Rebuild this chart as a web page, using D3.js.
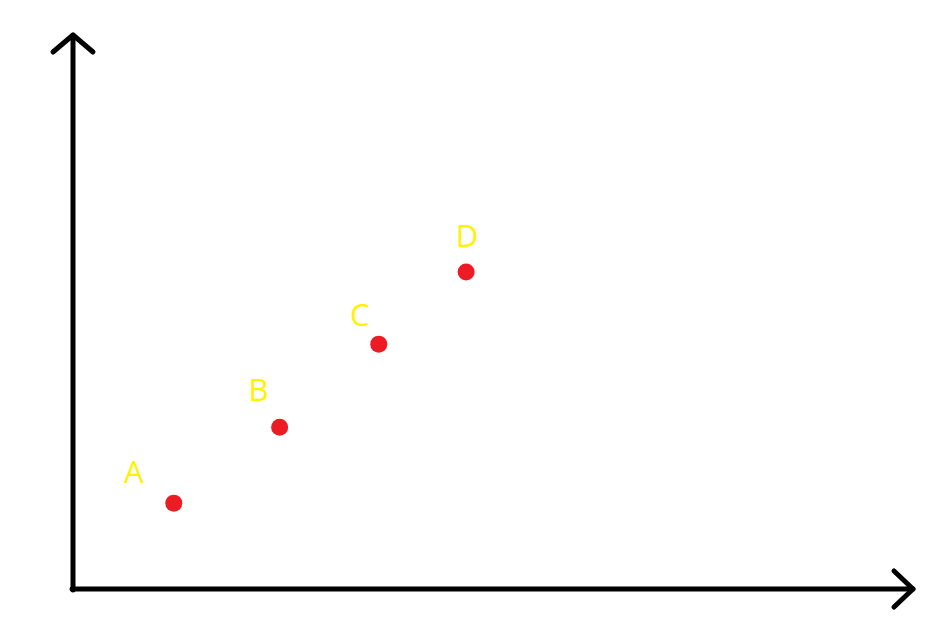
<!DOCTYPE html>
<html>
<head>
<meta charset="utf-8">
<script src="https://cdn.jsdelivr.net/npm/d3@7"></script>
<style>
  html, body { margin: 0; padding: 0; background: #ffffff; }
  svg { display: block; }
</style>
</head>
<body>
<script>
const labels = ["A", "B", "C", "D"];
const xValues = [12.0, 24.6, 36.4, 46.8];
const yValues = [15.5, 29.2, 44.2, 57.2];
const labelDx = [-40, -21, -19, 1];
const labelDy = [-20, -26, -18, -25];

const W = 945, H = 642;
const origin = { x: 73, y: 589 };
const x = d3.scaleLinear().domain([0, 100]).range([origin.x, 913]);
const y = d3.scaleLinear().domain([0, 100]).range([origin.y, 35]);

const svg = d3.select("body").append("svg").attr("width", W).attr("height", H);

const axisStyle = g => g.attr("fill", "none").attr("stroke", "#000")
  .attr("stroke-width", 5).attr("stroke-linecap", "round").attr("stroke-linejoin", "round");

const line = d3.line();
const axes = svg.append("g").call(axisStyle);
// y axis with arrow
axes.append("path").attr("d", line([[x(0), y(0) + 1], [x(0), y(100)]]));
axes.append("path").attr("d", line([[x(0) - 20, y(100) + 17], [x(0), y(100)], [x(0) + 20, y(100) + 17]]));
// x axis with arrow
axes.append("path").attr("d", line([[x(0) - 1, y(0)], [x(100), y(0)]]));
axes.append("path").attr("d", line([[x(100) - 19, y(0) - 18], [x(100), y(0)], [x(100) - 19, y(0) + 18]]));

const data = labels.map((l, i) => ({ label: l, x: xValues[i], y: yValues[i], dx: labelDx[i], dy: labelDy[i] }));

svg.append("g").selectAll("circle").data(data).join("circle")
  .attr("cx", d => x(d.x)).attr("cy", d => y(d.y)).attr("r", 8.5)
  .attr("fill", "#ED1C24");

svg.append("g").selectAll("text").data(data).join("text")
  .attr("x", d => x(d.x) + d.dx).attr("y", d => y(d.y) + d.dy)
  .attr("text-anchor", "middle")
  .attr("font-family", "'Open Sans', sans-serif")
  .attr("font-size", 31)
  .attr("fill", "#FFF200")
  .text(d => d.label);
</script>
</body>
</html>
